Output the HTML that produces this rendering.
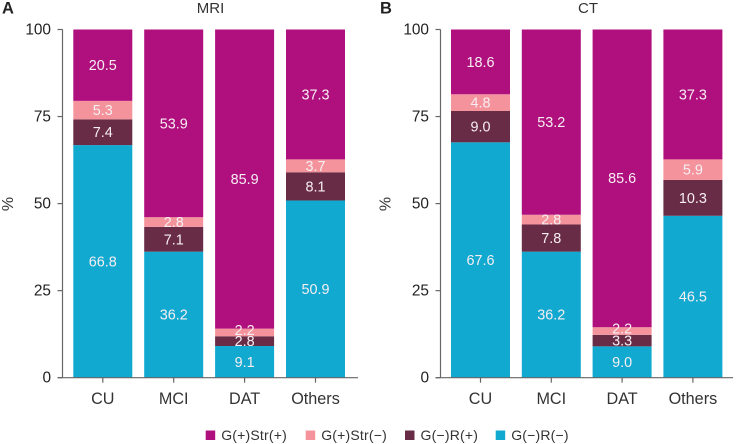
<!DOCTYPE html>
<html lang="en">
<head>
<meta charset="utf-8">
<title>MRI and CT stacked bars</title>
<style>
html,body{margin:0;padding:0;background:#fff;width:737px;height:444px;overflow:hidden}
svg{display:block;font-family:"Liberation Sans",Arial,sans-serif}
</style>
</head>
<body>
<svg id="chart" width="737" height="444" viewBox="0 0 737 444" xmlns="http://www.w3.org/2000/svg"></svg>
<script>
const categories = ["CU", "MCI", "DAT", "Others"];
const yTicks = [0, 25, 50, 75, 100];
const seriesNames = ["G(−)R(−)", "G(−)R(+)", "G(+)Str(−)", "G(+)Str(+)"];
const seriesColors = ["#12a9d0", "#692c46", "#f4939b", "#b0107e"];
const mriNegNeg = [66.8, 36.2, 9.1, 50.9];
const mriNegPos = [7.4, 7.1, 2.8, 8.1];
const mriPosNeg = [5.3, 2.8, 2.2, 3.7];
const mriPosPos = [20.5, 53.9, 85.9, 37.3];
const ctNegNeg = [67.6, 36.2, 9.0, 46.5];
const ctNegPos = [9.0, 7.8, 3.3, 10.3];
const ctPosNeg = [4.8, 2.8, 2.2, 5.9];
const ctPosPos = [18.6, 53.2, 85.6, 37.3];

const svg = document.getElementById('chart');
const NS = 'http://www.w3.org/2000/svg';
function mk(tag, attrs, text) {
  const el = document.createElementNS(NS, tag);
  for (const k in attrs) el.setAttribute(k, attrs[k]);
  if (text !== undefined) el.textContent = text;
  svg.appendChild(el);
  return el;
}
const Y0 = 377.7, Y100 = 29.5;
function yScale(v) { return Y0 - (v / 100) * (Y0 - Y100); }

function drawPanel(cfg) {
  const xBand = i => cfg.firstBar + i * cfg.step;
  const letter = mk('text', {x: cfg.letterX, y: 13.5, 'font-size': 16.5, 'font-weight': 700, fill: '#222'}, cfg.letter);
  
  
  const title = mk('text', {x: cfg.titleX, y: 13, 'font-size': 15, 'text-anchor': 'middle', fill: '#333'}, cfg.title);
  
  

  categories.forEach((cat, i) => {
    let acc = 0;
    cfg.series.forEach((vals, s) => {
      const v = vals[i];
      const yTop = Math.max(yScale(acc + v), Y100), yBot = yScale(acc);
      const r = mk('rect', {x: xBand(i), y: yTop, width: cfg.barW, height: yBot - yTop, fill: seriesColors[s]});
      
      
      acc += v;
    });
  });
  categories.forEach((cat, i) => {
    let acc = 0;
    cfg.series.forEach((vals, s) => {
      const v = vals[i];
      const yMid = yScale(acc + v / 2) - (v < 2.5 ? 2.5 : 0);
      const t = mk('text', {x: xBand(i) + cfg.barW / 2, y: yMid + 5, 'font-size': 14.4, 'text-anchor': 'middle', fill: '#f6eef2'}, v.toFixed(1));
      
      
      acc += v;
    });
  });

  const yAxis = mk('line', {x1: cfg.axisX, x2: cfg.axisX, y1: Y100, y2: Y0, stroke: '#666', 'stroke-width': 1.2});
  
  
  const xAxis = mk('line', {x1: cfg.axisX - 5, x2: cfg.axisEnd, y1: Y0, y2: Y0, stroke: '#666', 'stroke-width': 1.2});
  
  

  yTicks.forEach(v => {
    const tk = mk('line', {x1: cfg.axisX - 5, x2: cfg.axisX, y1: yScale(v), y2: yScale(v), stroke: '#666', 'stroke-width': 1.2});
    
    
    const lb = mk('text', {x: cfg.axisX - 11.5, y: yScale(v) + 5, 'font-size': 15.4, 'text-anchor': 'end', fill: '#222'}, String(v));
    
    
  });
  categories.forEach((cat, i) => {
    const cx = xBand(i) + cfg.barW / 2;
    const tk = mk('line', {x1: cx, x2: cx, y1: Y0, y2: Y0 + 5, stroke: '#666', 'stroke-width': 1.2});
    
    
    const lb = mk('text', {x: cx, y: 404, 'font-size': 16.2, 'text-anchor': 'middle', fill: '#333'}, cat);
    
    
  });
  const yt = mk('text', {x: 0, y: 0, 'font-size': 16, 'text-anchor': 'middle', fill: '#333', transform: 'translate(' + cfg.yTitleX + ',204) rotate(-90)'}, '%');
  
  
}

drawPanel({letter: 'A', letterX: 2, title: 'MRI', titleX: 210.5, firstBar: 73.3, step: 70.9, barW: 59, axisX: 62.5, axisEnd: 358, yTitleX: 13,
  series: [mriNegNeg, mriNegPos, mriPosNeg, mriPosPos]});
drawPanel({letter: 'B', letterX: 380, title: 'CT', titleX: 588, firstBar: 451, step: 70.8, barW: 59, axisX: 440.5, axisEnd: 733, yTitleX: 390.5,
  series: [ctNegNeg, ctNegPos, ctPosNeg, ctPosPos]});

const legendOrder = [3, 2, 1, 0];
const legendX = [205.7, 305.7, 405, 495.7];
legendOrder.forEach((s, i) => {
  const sw = mk('rect', {x: legendX[i], y: 430.5, width: 9.5, height: 9.5, fill: seriesColors[s]});
  
  
  const t = mk('text', {x: legendX[i] + 15.5, y: 440, 'font-size': 14, fill: '#333', 'letter-spacing': '0.2'}, seriesNames[s]);
  
  
});
</script>
</body>
</html>
